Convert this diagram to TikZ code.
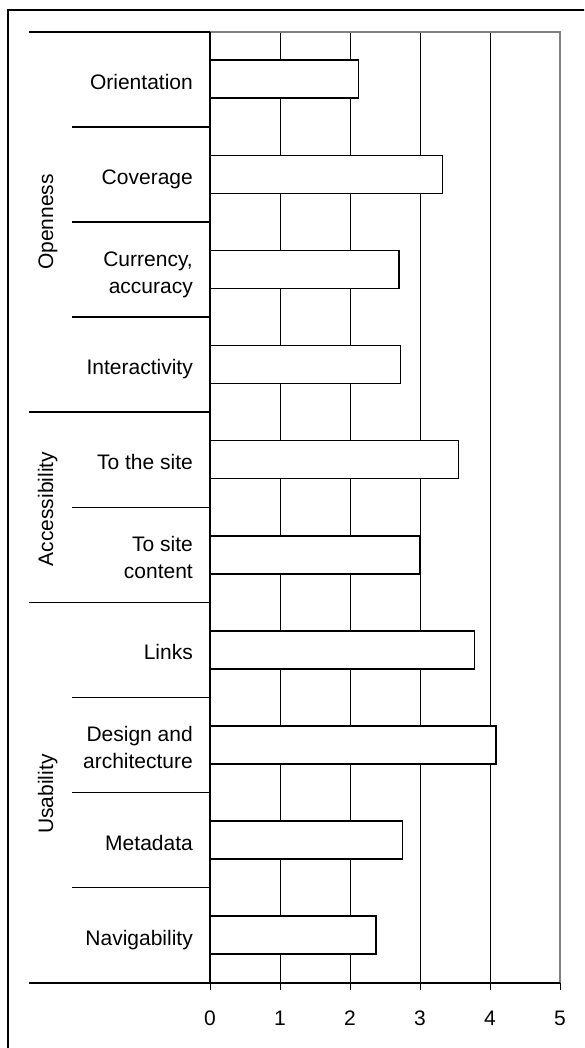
\documentclass[tikz,border=0pt]{standalone}
\usepackage{fontspec}
\setmainfont{Liberation Sans}
\begin{document}
\begin{tikzpicture}[x=1pt,y=-1pt,
  frame/.style={line width=2pt,black},
  axisline/.style={line width=1.7pt,black},
  gridline/.style={line width=0.9pt,black},
  plotedge/.style={line width=2.3pt,black!50},
  sepline/.style={line width=1.6pt,black},
  bar/.style={line width=1.7pt,draw=black,fill=white},
  catlabel/.style={anchor=base east,inner sep=0pt,font=\fontsize{21}{27}\selectfont},
  grplabel/.style={anchor=base,rotate=90,inner sep=0pt,font=\fontsize{21}{27}\selectfont},
  ticklabel/.style={anchor=base,inner sep=0pt,font=\fontsize{21}{27}\selectfont}]
\path[use as bounding box] (0,0) rectangle (584,1048);
\begin{scope}
\clip (0,0) rectangle (584,1048);
\draw[frame] (8,10) rectangle (600,1070);
\end{scope}
\def\top{32}
\def\bot{982.7}
\def\h{95.07}
% grid
\foreach \k in {1,2,3,4}{
  \draw[gridline] ({210+70*\k},\top) -- ({210+70*\k},\bot);
}
% plot edge (gray)
\draw[plotedge] (210,\top) -- (560,\top) -- (560,\bot);
% bars
\foreach \v [count=\i from 0] in {2.12,3.32,2.70,2.72,3.55,3.00,3.78,4.09,2.75,2.37}{
  \draw[bar] (210,{\top+\h*\i+28.3}) rectangle ({210+70*\v},{\top+\h*\i+66.3});
}
% axes
\draw[axisline] (210,\top) -- (210,\bot);
\draw[axisline] (29,\bot) -- (560,\bot);
\foreach \k in {0,...,5}{
  \draw[gridline] ({210+70*\k},\bot) -- ({210+70*\k},990);
  \node[ticklabel] (t\k) at ({210+70*\k},1025) {\k};
}
% group separators
\foreach \g in {0,4,6}{
  \draw[sepline] (29,{\top+\h*\g}) -- (210,{\top+\h*\g});
}
% category separators
\foreach \g in {1,2,3,5,7,8,9}{
  \draw[sepline] (72,{\top+\h*\g}) -- (210,{\top+\h*\g});
}
% category labels
\node[catlabel] (c0) at (193,{\top+\h*0.5+10}) {Orientation};
\node[catlabel] (c1) at (193,{\top+\h*1.5+10}) {Coverage};
\node[catlabel] (c2) at (193,{\top+\h*2.5-3.5}) {\begin{tabular}[t]{@{}r@{}}Currency,\\accuracy\end{tabular}};
\node[catlabel] (c3) at (193,{\top+\h*3.5+10}) {Interactivity};
\node[catlabel] (c4) at (193,{\top+\h*4.5+10}) {To the site};
\node[catlabel] (c5) at (193,{\top+\h*5.5-3.5}) {\begin{tabular}[t]{@{}r@{}}To site\\content\end{tabular}};
\node[catlabel] (c6) at (193,{\top+\h*6.5+10}) {Links};
\node[catlabel] (c7) at (193,{\top+\h*7.5-3.5}) {\begin{tabular}[t]{@{}r@{}}Design and\\architecture\end{tabular}};
\node[catlabel] (c8) at (193,{\top+\h*8.5+10}) {Metadata};
\node[catlabel] (c9) at (193,{\top+\h*9.5+10}) {Navigability};
% group labels
\node[grplabel] (g1) at (53,222) {Openness};
\node[grplabel] (g2) at (53,509) {Accessibility};
\node[grplabel] (g3) at (53,794) {Usability};
\end{tikzpicture}
\end{document}
